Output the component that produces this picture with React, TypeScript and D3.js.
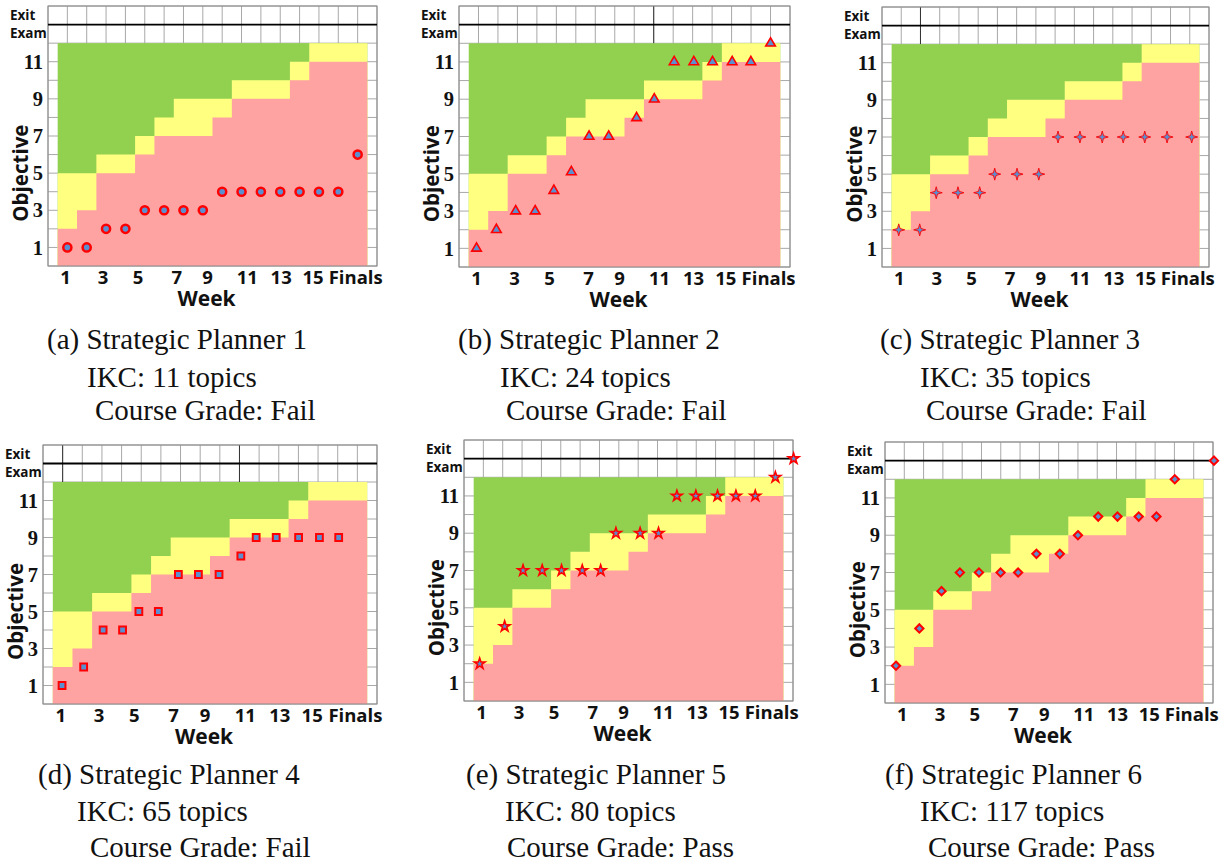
import React from "react";
import * as d3 from "d3";

// ---- data ----
const xTickLabels = ["1", "3", "5", "7", "9", "11", "13", "15", "Finals"];
const xTickPos = [0.9, 2.85, 4.65, 6.65, 8.25, 10.3, 12.05, 13.7, 15.9];
const yTicks = [1, 3, 5, 7, 9, 11];

// band boundaries per column (weeks 1..15 + Finals)
const pinkTop = [2, 3, 5, 5, 6, 7, 7, 7, 8, 9, 9, 9, 10, 11, 11, 11];
const greenBottom = [5, 5, 6, 6, 7, 8, 9, 9, 9, 10, 10, 10, 11, 12, 12, 12];

const p1X = [1, 2, 3, 4, 5, 6, 7, 8, 9, 10, 11, 12, 13, 14, 15, 16];
const p1Y = [1, 1, 2, 2, 3, 3, 3, 3, 4, 4, 4, 4, 4, 4, 4, 6];
const p2X = [0.9, 1.92, 2.91, 3.91, 4.87, 5.77, 6.68, 7.69, 9.12, 10.03, 11.05, 12.06, 13.02, 14.03, 14.99, 16.0];
const p2Y = [1, 2, 3, 3, 4.1, 5.1, 7, 7, 8, 9, 11, 11, 11, 11, 11, 12];
const p3X = [0.87, 1.96, 2.82, 3.95, 5.08, 5.86, 7.02, 8.15, 9.15, 10.29, 11.45, 12.54, 13.66, 14.82, 16.1];
const p3Y = [2, 2, 4, 4, 4, 5, 5, 5, 7, 7, 7, 7, 7, 7, 7];
const p4X = [0.97, 2.07, 3.06, 4.05, 4.88, 5.87, 6.89, 7.91, 8.96, 10.07, 10.85, 11.87, 13.01, 14.07, 15.05];
const p4Y = [1, 2, 4, 4, 5, 5, 7, 7, 7, 8, 9, 9, 9, 9, 9];
const p5X = [0.81, 2.1, 3.05, 4.04, 5.04, 6.11, 7.06, 7.85, 9.1, 10.05, 11.0, 11.98, 13.1, 14.05, 15.05, 16.09, 17.03];
const p5Y = [2, 4, 7, 7, 7, 7, 7, 9, 9, 9, 11, 11, 11, 11, 11, 12, 13];
const p6X = [0.57, 1.78, 2.93, 3.88, 4.87, 5.99, 6.9, 7.85, 9.06, 10.0, 11.05, 12.05, 13.15, 14.07, 15.02, 17.05];
const p6Y = [2, 4, 6, 7, 7, 7, 7, 8, 8, 9, 10, 10, 10, 10, 12, 13];

const captionTitles = ["(a) Strategic Planner 1", "(b) Strategic Planner 2", "(c) Strategic Planner 3", "(d) Strategic Planner 4", "(e) Strategic Planner 5", "(f) Strategic Planner 6"];
const captionIKC = ["IKC: 11 topics", "IKC: 24 topics", "IKC: 35 topics", "IKC: 65 topics", "IKC: 80 topics", "IKC: 117 topics"];
const captionGrade = ["Course Grade: Fail", "Course Grade: Fail", "Course Grade: Fail", "Course Grade: Fail", "Course Grade: Pass", "Course Grade: Pass"];

// ---- layout ----
const layout = [
  { l: 48, r: 377, t: 6, b: 266, cx: [47, 87, 95], cy: [349, 387, 420], marker: "circle", dark: [] },
  { l: 459, r: 790, t: 6, b: 267, cx: [458, 500, 506], cy: [349, 387, 420], marker: "triangle", dark: [10] },
  { l: 882, r: 1209, t: 7, b: 267, cx: [880, 920, 926], cy: [349, 387, 420], marker: "cross4", dark: [2] },
  { l: 43, r: 377, t: 445, b: 704, cx: [38, 77, 90], cy: [784, 821, 857], marker: "square", dark: [1, 10] },
  { l: 464, r: 793, t: 440, b: 701, cx: [466, 505, 507], cy: [784, 821, 857], marker: "star", dark: [] },
  { l: 885, r: 1213, t: 442, b: 703, cx: [885, 920, 928], cy: [784, 821, 857], marker: "diamond", dark: [] },
];
const seriesX = [p1X, p2X, p3X, p4X, p5X, p6X];
const seriesY = [p1Y, p2Y, p3Y, p4Y, p5Y, p6Y];

const GREEN = "#92d050";
const YELLOW = "#ffff80";
const PINK = "#ffa2a2";
const RED = "#ff0000";
const BLUE = "#5b8fd0";
const GRID = "#a8a8a8";
const SANS = "'Open Sans', Lato, sans-serif";
const SERIF = "'Liberation Serif', 'DejaVu Serif', serif";

function markerPath(kind: string): string {
  switch (kind) {
    case "circle":
      return d3.symbol(d3.symbolCircle, 52)()!;
    case "triangle":
      return d3.symbol(d3.symbolTriangle, 40)()!;
    case "square":
      return d3.symbol(d3.symbolSquare, 46)()!;
    case "star":
      return d3.symbol(d3.symbolStar, 36)()!;
    case "diamond":
      return d3.symbol(d3.symbolDiamond2, 44)()!;
    case "cross4":
    default:
      return "M0,-6L1.3,-1.3L6,0L1.3,1.3L0,6L-1.3,1.3L-6,0L-1.3,-1.3Z";
  }
}

function markerStroke(kind: string): number {
  if (kind === "circle") return 2.5;
  if (kind === "square") return 2;
  if (kind === "diamond") return 2;
  if (kind === "cross4") return 0.9;
  return 1.6;
}

function Panel({ idx }: { idx: number }) {
  const L = layout[idx];
  const x = d3.scaleLinear().domain([0, 17]).range([L.l, L.r]);
  const y = d3.scaleLinear().domain([0, 14]).range([L.b, L.t]);
  const cols = pinkTop.map((_, i) => i);
  const stepPts = (arr: number[]) => [
    ...arr.map((v, i) => ({ w: i + 0.5, v })),
    { w: arr.length + 0.5, v: arr[arr.length - 1] },
  ];
  const area = d3
    .area<{ w: number; v: number }>()
    .x((d) => x(d.w))
    .y0(y(0))
    .y1((d) => y(d.v))
    .curve(d3.curveStepAfter);
  const xs = seriesX[idx];
  const ys = seriesY[idx];
  const mp = markerPath(L.marker);
  const vLines = d3.range(0, 18);
  const hLines = d3.range(0, 15);
  return (
    <g>
      {/* grid */}
      {hLines.map((v) => (
        <line key={"h" + v} x1={x(0)} x2={x(17)} y1={y(v)} y2={y(v)} stroke={GRID} strokeWidth={1} />
      ))}
      {vLines.map((w) => (
        <line key={"v" + w} x1={x(w)} x2={x(w)} y1={y(0)} y2={y(14)} stroke={GRID} strokeWidth={1} />
      ))}
      {L.dark.map((w: number) => (
        <line key={"d" + w} x1={x(w)} x2={x(w)} y1={y(12)} y2={y(14)} stroke="#333" strokeWidth={1} />
      ))}
      {/* bands */}
      <rect x={x(0.5)} y={y(12)} width={x(cols.length + 0.5) - x(0.5)} height={y(0) - y(12)} fill={GREEN} />
      <path d={area(stepPts(greenBottom))!} fill={YELLOW} />
      <path d={area(stepPts(pinkTop))!} fill={PINK} />
      {/* frame */}
      <rect x={x(0)} y={y(14)} width={x(17) - x(0)} height={y(0) - y(14)} fill="none" stroke="#8a8a8a" strokeWidth={1} />
      <line x1={x(0)} x2={x(17)} y1={y(13)} y2={y(13)} stroke="#000" strokeWidth={1.8} />
      {/* exit exam label */}
      <text x={L.l - 38} y={y(13.5)} dy="0.35em" fontFamily={SANS} fontWeight={700} fontSize={13.5} fill="#111">Exit</text>
      <text x={L.l - 38} y={y(12.55)} dy="0.35em" fontFamily={SANS} fontWeight={700} fontSize={13.5} fill="#111">Exam</text>
      {/* y ticks */}
      {yTicks.map((v) => (
        <text key={"yt" + v} x={L.l - 5} y={y(v)} dy="0.35em" textAnchor="end" fontFamily={SERIF} fontWeight={700} fontSize={20.5} fill="#111">
          {v}
        </text>
      ))}
      {/* x ticks */}
      {xTickLabels.map((t, i) => (
        <text key={"xt" + t} x={x(xTickPos[i])} y={L.b + 12} dy="0.35em" textAnchor="middle" fontFamily={SANS} fontWeight={700} fontSize={18.5} fill="#111">
          {t}
        </text>
      ))}
      <text x={(L.l + L.r) / 2 - 6} y={L.b + 33} dy="0.35em" textAnchor="middle" fontFamily={SANS} fontWeight={700} fontSize={21} fill="#111">
        Week
      </text>
      <text
        transform={`translate(${L.l - 27},${y(5)}) rotate(-90)`}
        dy="0.35em"
        textAnchor="middle"
        fontFamily={SANS}
        fontWeight={700}
        fontSize={20.5}
        fill="#111"
      >
        Objective
      </text>
      {/* markers */}
      {xs.map((w, i) => (
        <path key={"m" + i} d={mp} transform={`translate(${x(w)},${y(ys[i])})`} fill={BLUE} stroke={RED} strokeWidth={markerStroke(L.marker)} strokeLinejoin="miter" />
      ))}
      {/* caption */}
      <text x={L.cx[0]} y={L.cy[0]} fontFamily={SERIF} fontSize={29} fill="#111">{captionTitles[idx]}</text>
      <text x={L.cx[1]} y={L.cy[1]} fontFamily={SERIF} fontSize={29} fill="#111">{captionIKC[idx]}</text>
      <text x={L.cx[2]} y={L.cy[2]} fontFamily={SERIF} fontSize={29} fill="#111">{captionGrade[idx]}</text>
    </g>
  );
}

export default function App() {
  return (
    <svg width={1226} height={866} style={{ position: "absolute", left: 0, top: 0, background: "#fff" }}>
      <rect width={1226} height={866} fill="#fff" />
      {layout.map((_, i) => (
        <Panel key={i} idx={i} />
      ))}
    </svg>
  );
}
